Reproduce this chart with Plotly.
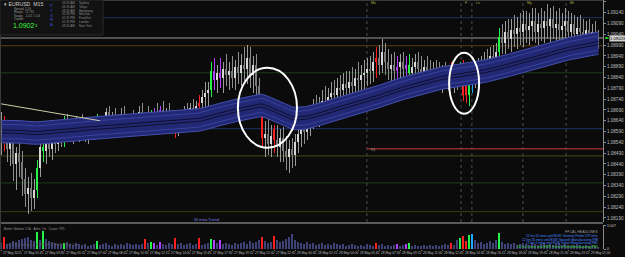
import plotly.graph_objects as go

# ---------------- DATA (EURUSD M15) ----------------
open_ = [1.0858,1.0860,1.0856,1.0851,1.0855,1.0844,1.0849,1.0845,1.0837,1.0830,
 1.0833,1.0828,1.0832,1.0842,1.0852,1.0850,1.0854,1.0851,1.0855,1.0853,
 1.0858,1.0856,1.0864,1.0860,1.0858,1.0861,1.0859,1.0862,1.0860,1.0857,
 1.0861,1.0860,1.0863,1.0861,1.0862,1.0863,1.0868,1.0865,1.0866,1.0864,
 1.0865,1.0867,1.0864,1.0862,1.0865,1.0863,1.0866,1.0868,1.0865,1.0867,
 1.0864,1.0866,1.0868,1.0866,1.0869,1.0867,1.0868,1.0866,1.0867,1.0860,
 1.0864,1.0866,1.0868,1.0867,1.0870,1.0868,1.0871,1.0872,1.0875,1.0877,
 1.0878,1.0887,1.0883,1.0886,1.0884,1.0888,1.0885,1.0887,1.0884,1.0889,
 1.0886,1.0890,1.0888,1.0893,1.0885,1.0890,1.0880,1.0872,1.0856,1.0858,
 1.0853,1.0860,1.0855,1.0852,1.0856,1.0850,1.0847,1.0851,1.0848,1.0854,
 1.0858,1.0861,1.0859,1.0864,1.0866,1.0869,1.0867,1.0871,1.0873,1.0872,
 1.0875,1.0877,1.0876,1.0879,1.0878,1.0881,1.0879,1.0882,1.0880,1.0884,
 1.0883,1.0885,1.0886,1.0888,1.0887,1.0891,1.0893,1.0890,1.0896,1.0891,
 1.0888,1.0890,1.0887,1.0889,1.0891,1.0888,1.0890,1.0886,1.0889,1.0891,
 1.0888,1.0886,1.0889,1.0887,1.0884,1.0887,1.0885,1.0883,1.0886,1.0884,
 1.0886,1.0883,1.0885,1.0884,1.0889,1.0876,1.0876,1.0882,1.0884,1.0887,
 1.0889,1.0890,1.0892,1.0891,1.0894,1.0893,1.0896,1.0903,1.0900,1.0905,
 1.0902,1.0906,1.0904,1.0907,1.0905,1.0909,1.0906,1.0908,1.0910,1.0905,
 1.0909,1.0907,1.0910,1.0908,1.0911,1.0907,1.0909,1.0906,1.0908,1.0910,
 1.0905,1.0909,1.0904,1.0907,1.0905,1.0902,1.0906,1.0903,1.0905,1.0902]
high_ = [1.0868,1.0866,1.0862,1.0860,1.0862,1.0852,1.0858,1.0850,1.0842,1.0838,
 1.0840,1.0837,1.0846,1.0856,1.0860,1.0858,1.0859,1.0860,1.0861,1.0862,
 1.0862,1.0866,1.0867,1.0864,1.0863,1.0866,1.0864,1.0867,1.0864,1.0863,
 1.0864,1.0865,1.0867,1.0864,1.0866,1.0870,1.0871,1.0868,1.0870,1.0867,
 1.0870,1.0871,1.0867,1.0867,1.0869,1.0867,1.0871,1.0872,1.0868,1.0871,
 1.0869,1.0870,1.0872,1.0871,1.0873,1.0870,1.0872,1.0869,1.0869,1.0867,
 1.0869,1.0871,1.0872,1.0872,1.0874,1.0873,1.0876,1.0878,1.0882,1.0882,
 1.0891,1.0893,1.0890,1.0893,1.0891,1.0895,1.0891,1.0894,1.0892,1.0896,
 1.0895,1.0898,1.0899,1.0898,1.0894,1.0895,1.0884,1.0875,1.0864,1.0865,
 1.0862,1.0862,1.0862,1.0860,1.0861,1.0857,1.0855,1.0856,1.0858,1.0862,
 1.0865,1.0866,1.0868,1.0871,1.0874,1.0876,1.0875,1.0878,1.0880,1.0879,
 1.0882,1.0883,1.0884,1.0885,1.0886,1.0887,1.0887,1.0889,1.0888,1.0891,
 1.0890,1.0892,1.0893,1.0894,1.0896,1.0898,1.0899,1.0902,1.0900,1.0897,
 1.0895,1.0896,1.0894,1.0895,1.0896,1.0894,1.0895,1.0893,1.0895,1.0896,
 1.0894,1.0892,1.0894,1.0892,1.0891,1.0892,1.0891,1.0890,1.0891,1.0890,
 1.0891,1.0889,1.0890,1.0891,1.0892,1.0883,1.0884,1.0887,1.0891,1.0893,
 1.0894,1.0896,1.0897,1.0898,1.0899,1.0900,1.0907,1.0909,1.0910,1.0911,
 1.0911,1.0913,1.0912,1.0914,1.0915,1.0915,1.0914,1.0916,1.0916,1.0914,
 1.0916,1.0915,1.0918,1.0916,1.0917,1.0915,1.0916,1.0914,1.0916,1.0915,
 1.0914,1.0913,1.0912,1.0913,1.0911,1.0910,1.0911,1.0909,1.0910,1.0906]
low_ = [1.0848,1.0850,1.0845,1.0843,1.0836,1.0832,1.0838,1.0829,1.0824,1.0821,
 1.0822,1.0823,1.0828,1.0838,1.0845,1.0844,1.0847,1.0846,1.0849,1.0850,
 1.0852,1.0852,1.0856,1.0854,1.0853,1.0855,1.0854,1.0856,1.0854,1.0853,
 1.0856,1.0855,1.0857,1.0856,1.0857,1.0858,1.0861,1.0860,1.0860,1.0859,
 1.0860,1.0861,1.0858,1.0858,1.0860,1.0859,1.0862,1.0862,1.0860,1.0861,
 1.0859,1.0861,1.0863,1.0861,1.0863,1.0862,1.0863,1.0861,1.0856,1.0857,
 1.0860,1.0862,1.0863,1.0863,1.0864,1.0864,1.0866,1.0868,1.0870,1.0871,
 1.0875,1.0878,1.0877,1.0879,1.0877,1.0880,1.0878,1.0879,1.0878,1.0881,
 1.0880,1.0882,1.0881,1.0879,1.0877,1.0875,1.0866,1.0852,1.0847,1.0848,
 1.0847,1.0849,1.0847,1.0845,1.0845,1.0841,1.0840,1.0842,1.0843,1.0849,
 1.0852,1.0853,1.0855,1.0857,1.0860,1.0862,1.0861,1.0865,1.0867,1.0866,
 1.0869,1.0870,1.0871,1.0872,1.0873,1.0874,1.0874,1.0875,1.0875,1.0877,
 1.0876,1.0878,1.0880,1.0881,1.0882,1.0884,1.0885,1.0886,1.0885,1.0883,
 1.0882,1.0883,1.0881,1.0882,1.0883,1.0881,1.0882,1.0880,1.0883,1.0884,
 1.0881,1.0880,1.0882,1.0879,1.0878,1.0880,1.0878,1.0877,1.0879,1.0878,
 1.0879,1.0877,1.0878,1.0880,1.0873,1.0872,1.0871,1.0877,1.0879,1.0881,
 1.0882,1.0884,1.0885,1.0886,1.0887,1.0888,1.0893,1.0895,1.0895,1.0897,
 1.0896,1.0898,1.0897,1.0899,1.0898,1.0900,1.0899,1.0901,1.0900,1.0899,
 1.0901,1.0900,1.0902,1.0900,1.0902,1.0899,1.0901,1.0899,1.0901,1.0900,
 1.0900,1.0899,1.0898,1.0900,1.0897,1.0897,1.0898,1.0897,1.0898,1.0897]
close_ = [1.0860,1.0856,1.0851,1.0855,1.0844,1.0849,1.0845,1.0837,1.0830,1.0833,
 1.0828,1.0832,1.0842,1.0852,1.0850,1.0854,1.0851,1.0855,1.0853,1.0858,
 1.0856,1.0864,1.0860,1.0858,1.0861,1.0859,1.0862,1.0860,1.0857,1.0861,
 1.0860,1.0863,1.0861,1.0862,1.0863,1.0868,1.0865,1.0866,1.0864,1.0865,
 1.0867,1.0864,1.0862,1.0865,1.0863,1.0866,1.0868,1.0865,1.0867,1.0864,
 1.0866,1.0868,1.0866,1.0869,1.0867,1.0868,1.0866,1.0867,1.0860,1.0864,
 1.0866,1.0868,1.0867,1.0870,1.0868,1.0871,1.0872,1.0875,1.0877,1.0878,
 1.0887,1.0883,1.0886,1.0884,1.0888,1.0885,1.0887,1.0884,1.0889,1.0886,
 1.0890,1.0888,1.0893,1.0885,1.0890,1.0880,1.0872,1.0856,1.0858,1.0853,
 1.0857,1.0855,1.0852,1.0856,1.0850,1.0847,1.0851,1.0848,1.0854,1.0858,
 1.0861,1.0859,1.0864,1.0866,1.0869,1.0867,1.0871,1.0873,1.0872,1.0875,
 1.0877,1.0876,1.0879,1.0878,1.0881,1.0879,1.0882,1.0880,1.0884,1.0883,
 1.0885,1.0886,1.0888,1.0887,1.0891,1.0893,1.0890,1.0896,1.0891,1.0888,
 1.0890,1.0887,1.0889,1.0891,1.0888,1.0890,1.0886,1.0889,1.0891,1.0888,
 1.0886,1.0889,1.0887,1.0884,1.0887,1.0885,1.0883,1.0886,1.0884,1.0886,
 1.0883,1.0885,1.0884,1.0889,1.0876,1.0880,1.0882,1.0884,1.0887,1.0889,
 1.0890,1.0892,1.0891,1.0894,1.0893,1.0896,1.0903,1.0900,1.0905,1.0902,
 1.0906,1.0904,1.0907,1.0905,1.0909,1.0906,1.0908,1.0910,1.0905,1.0909,
 1.0907,1.0910,1.0908,1.0911,1.0907,1.0909,1.0906,1.0908,1.0910,1.0905,
 1.0909,1.0904,1.0907,1.0905,1.0902,1.0906,1.0903,1.0905,1.0902,1.0902]
volume = [270,540,225,270,360,315,405,450,495,540,405,360,765,405,810,450,360,315,270,225,
 225,270,315,225,180,270,225,180,225,135,180,225,360,180,225,270,180,135,225,180,
 225,180,270,225,180,225,180,225,450,270,315,270,180,315,225,180,270,225,495,225,
 270,180,225,270,180,225,495,180,225,270,450,405,270,405,225,270,225,180,270,225,
 270,315,225,360,270,315,405,540,360,270,315,585,405,315,360,450,540,675,405,315,
 270,225,315,225,270,180,225,270,180,225,180,270,225,180,225,135,180,225,180,135,
 180,135,225,180,135,270,180,225,135,180,135,180,225,135,180,225,270,135,180,135,
 135,180,135,180,135,180,135,180,225,180,270,180,405,495,585,360,630,675,405,270,
 315,225,270,360,270,405,720,315,225,270,225,270,180,225,270,225,180,270,225,180,
 225,270,180,225,180,225,270,180,225,180,135,180,225,180,135,180,135,180,135,90]
band_mid = [1.0859,1.0859,1.0859,1.0859,1.0859,1.0859,1.0859,1.08588,1.08586,1.08584,
 1.08583,1.08583,1.08583,1.08584,1.08585,1.08586,1.08587,1.08588,
 1.0859,1.08591,1.08592,1.08593,1.08595,1.08596,1.08598,1.08599,1.0860,1.08601,1.08603,1.08604,1.08605,1.08606,1.08608,1.0861,
 1.08611,1.08612,1.08613,1.08614,1.08615,1.08616,1.08617,1.08618,1.08619,1.0862,1.08621,1.08622,1.08623,1.08624,1.08625,1.08626,1.08626,
 1.08627,1.08628,1.08629,1.0863,1.08631,1.08632,1.08633,1.08634,1.08635,1.08636,1.08637,1.08638,1.08639,1.0864,1.08642,1.08644,
 1.08647,1.0865,1.08654,1.08658,1.08662,1.08666,1.0867,1.08674,1.08678,1.08681,1.08684,1.08687,1.0869,1.08693,1.08696,1.08699,1.08702,1.08705,1.08708,1.0871,1.0871,
 1.08706,1.087,1.08694,1.08688,1.08682,1.08675,1.08668,1.08661,1.08655,
 1.08652,1.0865,1.0865,1.08651,1.08653,1.08655,1.08658,1.08661,1.08665,1.0867,
 1.08674,1.08678,1.08682,1.08686,1.0869,1.08694,1.08698,1.08702,1.08706,1.0871,1.08714,1.08718,1.08722,1.08726,1.0873,1.08734,1.08738,
 1.08743,1.08748,1.08753,1.08758,1.08763,1.08768,1.08773,1.08778,1.08782,1.08786,1.0879,1.08794,1.08798,1.08802,1.08806,1.0881,1.08814,1.08818,1.08822,1.08826,
 1.08829,1.08832,1.08835,1.08838,1.0884,1.08842,1.08844,1.08846,1.08848,1.0885,1.08852,1.08854,1.08856,1.08858,1.0886,
 1.08863,1.08866,1.08869,1.08872,1.08875,1.08878,1.08881,1.08884,1.08888,1.08892,1.08896,1.089,
 1.08904,1.08908,1.08912,1.08916,1.0892,1.08924,1.08928,1.08932,1.08936,1.0894,1.08944,1.08948,1.08952,1.08956,1.0896,1.08964,
 1.08967,1.0897,1.08973,1.08976,1.08979,1.08982,1.08985,1.08988,1.08991,1.08993,1.08995,1.08997,1.08999]
band_offsets = [-0.00052, -0.00033, -0.00007, 0.00007, 0.00033, 0.00052]
red_bars = [1, 48, 58, 66, 87, 91, 125, 150, 154, 155]
green_bars = [12, 14, 21, 32, 50, 70, 136, 153, 156, 166]
magenta_bars = [51, 53, 71, 73, 132, 135]
cyan_bars = [157]

price_ticks = [1.0919,1.0914,1.0909,1.0904,1.0899,1.0894,1.0889,1.0884,1.0879,1.0874,1.0869,
               1.0864,1.0859,1.0854,1.0849,1.0844,1.0839,1.0834,1.0829,1.0824,1.0819]
price_tick_labels = ["%.5f" % p for p in price_ticks]
time_tick_bars = list(range(0, 200, 7))
time_tick_labels = ["27 May 2015","27 May 01:45","27 May 03:30","27 May 05:15","27 May 07:00",
  "27 May 08:45","27 May 10:30","27 May 12:15","27 May 14:00","27 May 15:45","27 May 17:30",
  "27 May 19:15","27 May 21:00","27 May 22:45","28 May 00:30","28 May 02:15","28 May 04:00",
  "28 May 05:45","28 May 07:30","28 May 09:15","28 May 11:00","28 May 12:45","28 May 14:30",
  "28 May 16:15","28 May 18:00","28 May 19:45","28 May 21:30","28 May 23:15","29 May 01:00"]
level_prices = [1.09117, 1.09023, 1.08987, 1.08862, 1.08603, 1.08477, 1.08352, 1.08219]
level_colors = ["#1e3466", "#6a6a6a", "#5c3c12", "#1d3d1d", "#1e3466", "#4a4a18", "#1d3d1d", "#3c3c14"]
r1_price = 1.08510
r1_start_bar = 121.8
event_bars = [121.8, 153.2, 156.8, 173.8, 188.2]
event_labels = ["Mo", "F", "Lu", "My", "Mi"]
trend_bars = [-0.5, 32.8]
trend_prices = [1.08719, 1.0864]
ellipse_bars = [(78.8, 98.5), (149.2, 159.2)]
ellipse_prices = [(1.08515, 1.08885), (1.08672, 1.08955)]
last_price = 1.09023
vol_axis_max = 1047

# ---------------- FIGURE ----------------
N = len(close_)
xs = list(range(N))
PW, PH = 603, 249
def pxx(v): return v / PW
def pyy(v): return (PH - v) / PH

COL = {'r': '#ff1f1f', 'g': '#26f04a', 'm': '#b040ff', 'c': '#1ea8ff'}
code = ['.'] * N
for lst, c in ((red_bars, 'r'), (green_bars, 'g'), (magenta_bars, 'm'), (cyan_bars, 'c')):
    for i in lst:
        code[i] = c
body_col, wick_col, vol_col = [], [], []
for i in range(N):
    if code[i] in COL:
        body_col.append(COL[code[i]]); wick_col.append(COL[code[i]]); vol_col.append(COL[code[i]])
    else:
        if close_[i] >= open_[i]:
            body_col.append('#d6d6d6'); wick_col.append('#9a9a9a')
        else:
            body_col.append('#7a7a7a'); wick_col.append('#8e8e8e')
        vol_col.append('#3f4276')

fig = go.Figure()
lo = [m + band_offsets[0] for m in band_mid]
hi = [m + band_offsets[-1] for m in band_mid]
fig.add_trace(go.Scatter(x=xs, y=lo, mode='lines', line=dict(color='#4350b0', width=1), hoverinfo='skip'))
fig.add_trace(go.Scatter(x=xs, y=hi, mode='lines', line=dict(color='#4350b0', width=1), fill='tonexty',
                         fillcolor='#232874', hoverinfo='skip'))
for off, colr in zip(band_offsets[1:-1], ['#3743a0', '#0d0f2c', '#0d0f2c', '#3743a0']):
    fig.add_trace(go.Scatter(x=xs, y=[m + off for m in band_mid], mode='lines',
                             line=dict(color=colr, width=1), hoverinfo='skip'))
fig.add_trace(go.Bar(x=xs, base=low_, y=[h - l for h, l in zip(high_, low_)], width=0.3,
                     marker=dict(color=wick_col, line=dict(width=0))))
fig.add_trace(go.Bar(x=xs, base=[min(o, c) for o, c in zip(open_, close_)],
                     y=[max(abs(c - o), 0.00004) for o, c in zip(open_, close_)], width=0.5,
                     marker=dict(color=body_col, line=dict(width=0))))
fig.add_trace(go.Bar(x=xs, y=volume, xaxis='x2', yaxis='y2', width=0.55,
                     marker=dict(color=vol_col, line=dict(width=0))))

shapes = []
for p, c in zip(level_prices, level_colors):
    shapes.append(dict(type='line', xref='paper', yref='y', x0=0, x1=1, y0=p, y1=p,
                       line=dict(color=c, width=1.5 if c == '#6a6a6a' else 1), layer='below'))
shapes.append(dict(type='line', xref='x', yref='y', x0=r1_start_bar, x1=200.5, y0=r1_price, y1=r1_price,
                   line=dict(color='#8c2a2a', width=1.5), layer='below'))
for b in event_bars:
    shapes.append(dict(type='line', xref='x', yref='paper', x0=b, x1=b, y0=pyy(222), y1=1,
                       line=dict(color='#4e4e4e', width=1, dash='dot'), layer='below'))
shapes.append(dict(type='line', xref='x', yref='y', x0=trend_bars[0], x1=trend_bars[1],
                   y0=trend_prices[0], y1=trend_prices[1], line=dict(color='#cfcfa8', width=1)))
for (b0, b1), (p0, p1) in zip(ellipse_bars, ellipse_prices):
    shapes.append(dict(type='circle', xref='x', yref='y', x0=b0, x1=b1, y0=p0, y1=p1,
                       line=dict(color='#ffffff', width=2)))
shapes.append(dict(type='line', xref='paper', yref='paper', x0=0, x1=1, y0=pyy(223), y1=pyy(223),
                   line=dict(color='#5a5a5a', width=2)))
shapes.append(dict(type='line', xref='paper', yref='paper', x0=0, x1=1, y0=pyy(0.5), y1=pyy(0.5),
                   line=dict(color='#3a3a3a', width=1)))
shapes.append(dict(type='line', xref='paper', yref='paper', x0=pxx(0.5), x1=pxx(0.5), y0=0, y1=1,
                   line=dict(color='#3a3a3a', width=1)))
shapes.append(dict(type='rect', xref='paper', yref='paper', x0=pxx(0), x1=pxx(103), y0=pyy(35), y1=pyy(0),
                   fillcolor='#121212', line=dict(color='#2a2a2a', width=1), layer='above'))
shapes.append(dict(type='rect', xref='paper', yref='y', x0=pxx(605), x1=pxx(608.5),
                   y0=last_price - 0.00004, y1=last_price + 0.00004, fillcolor='#22dd22', line=dict(width=0)))

ann = []
FONT = 'Liberation Sans'
def T(x, y, text, size=4.5, color='#a8a8a8', xa='left', ya='middle'):
    ann.append(dict(xref='paper', yref='paper', x=pxx(x), y=pyy(y), text=text, showarrow=False,
                    xanchor=xa, yanchor=ya, font=dict(family=FONT, size=size, color=color)))

T(2, 4, '▾ EURUSD  M15', 5.2, '#d0d0d0')
for k, (lab, val) in enumerate([('Spread', '1.10'), ('Range', '72 / 81'), ('Swaps', '-1.02 / 1.04'), ('Candle', '')]):
    T(12, 9 + 3.3 * k, lab, 3.0, '#9a9a9a')
    T(23, 9 + 3.3 * k, val, 3.0, '#9a9a9a')
T(11, 25, '1.0902', 7, '#3cff3c')
T(33, 26, '3', 4, '#3cff3c')
for k, ch in enumerate('PYSRA'):
    T(51, 6 + 4.6 * k, ch, 4.2, '#3c4cd8', xa='center')
sessions = [('06:35 AM', 'Sydney'), ('06:35 AM', 'Tokyo'), ('08:35 AM', 'Hongkong'), ('02:35 PM', 'Moscow'),
            ('02:35 PM', 'Frankfurt'), ('01:35 PM', 'London'), ('08:35 AM', 'New York')]
for k, (t, nm) in enumerate(sessions):
    T(60, 3 + 3.8 * k, t, 3.0, '#8a8a8a')
    T(77, 3 + 3.8 * k, nm, 3.0, '#8a8a8a')
for b, lab in zip(event_bars, event_labels):
    ann.append(dict(xref='x', yref='paper', x=b + 0.6, y=pyy(3.5), text=lab, showarrow=False, xanchor='left',
                    yanchor='middle', font=dict(family=FONT, size=3.6, color='#a8a840')))
ann.append(dict(xref='x', yref='y', x=r1_start_bar + 0.6, y=r1_price - 0.00007, text='R1', showarrow=False,
                xanchor='left', yanchor='middle', font=dict(family=FONT, size=3.6, color='#9a9a9a')))
for b, lab in zip(time_tick_bars, time_tick_labels):
    ann.append(dict(xref='x', yref='paper', x=b - 0.2, y=pyy(253), text=lab, showarrow=False, xanchor='left',
                    yanchor='middle', font=dict(family=FONT, size=3.2, color='#bdbdbd')))
T(192, 219, 'SI ema Trend', 4.2, '#7a7ae0')
T(2, 228.5, 'Better Volume 1.5b   Alert: On   Count: 795', 3.2, '#9a9a9a')
T(5, 245, '(c) 2015 Lamboy, 1.5 FOREXSYSTEM Bertrand Cans', 3.0, '#5a5a5a')
T(600, 232, 'FFCAL HEADLINES', 3.6, '#9a9a9a', xa='right')
heads = [('11 hrs 55 mins until EUR: German Prelim CPI m/m', '#4a86ff'),
         ('12 hrs 35 mins until EUR: Spanish Manufacturing PMI', '#4a86ff'),
         ('13 hrs 5 mins until EUR: Italian Manufacturing PMI', '#4a86ff'),
         ('13 hrs 5 mins until EUR: French Final Manufacturing PMI', '#36d836')]
for k, (t, c) in enumerate(heads):
    T(600, 236 + 3.6 * k, t, 3.2, c, xa='right')
ann.append(dict(xref='paper', yref='y', x=pxx(609), y=last_price, text='1.09023', showarrow=False,
                xanchor='left', yanchor='middle', bgcolor='#cfcfcf', borderpad=0,
                font=dict(family=FONT, size=4.2, color='#000000')))

fig.update_layout(
    width=625, height=257, margin=dict(l=0, r=22, t=0, b=8),
    paper_bgcolor='#0b0b0b', plot_bgcolor='#0b0b0b', showlegend=False,
    barmode='overlay', bargap=0, shapes=shapes, annotations=ann, hovermode=False,
    xaxis=dict(domain=[0, 1], range=[-0.5, 200.5], anchor='y', showticklabels=False, showgrid=False,
               zeroline=False, showline=False, fixedrange=True),
    xaxis2=dict(domain=[0, 1], range=[-0.5, 200.5], anchor='y2', matches='x', showgrid=False, zeroline=False,
                tickmode='array', tickvals=time_tick_bars, showticklabels=False,
                ticks='outside', ticklen=1, tickcolor='#777777', showline=False, automargin=False),
    yaxis=dict(domain=[pyy(222), 1], range=[1.08171, 1.09199], side='right', showgrid=False, zeroline=False,
               tickmode='array', tickvals=price_ticks, ticktext=price_tick_labels, ticks='outside', ticklen=2,
               tickcolor='#8a8a8a', showline=True, linecolor='#8a8a8a', linewidth=1,
               tickfont=dict(family=FONT, size=4.6, color='#bdbdbd'), automargin=False),
    yaxis2=dict(domain=[0, pyy(225)], range=[0, vol_axis_max * 1.04], side='right', showgrid=False,
                zeroline=False, tickmode='array', tickvals=[vol_axis_max, 0],
                ticktext=[str(vol_axis_max), '0'], ticks='outside', ticklen=2, tickcolor='#8a8a8a',
                showline=True, linecolor='#8a8a8a', linewidth=1,
                tickfont=dict(family=FONT, size=4.2, color='#bdbdbd'), automargin=False),
)
fig.write_html('out.html')
